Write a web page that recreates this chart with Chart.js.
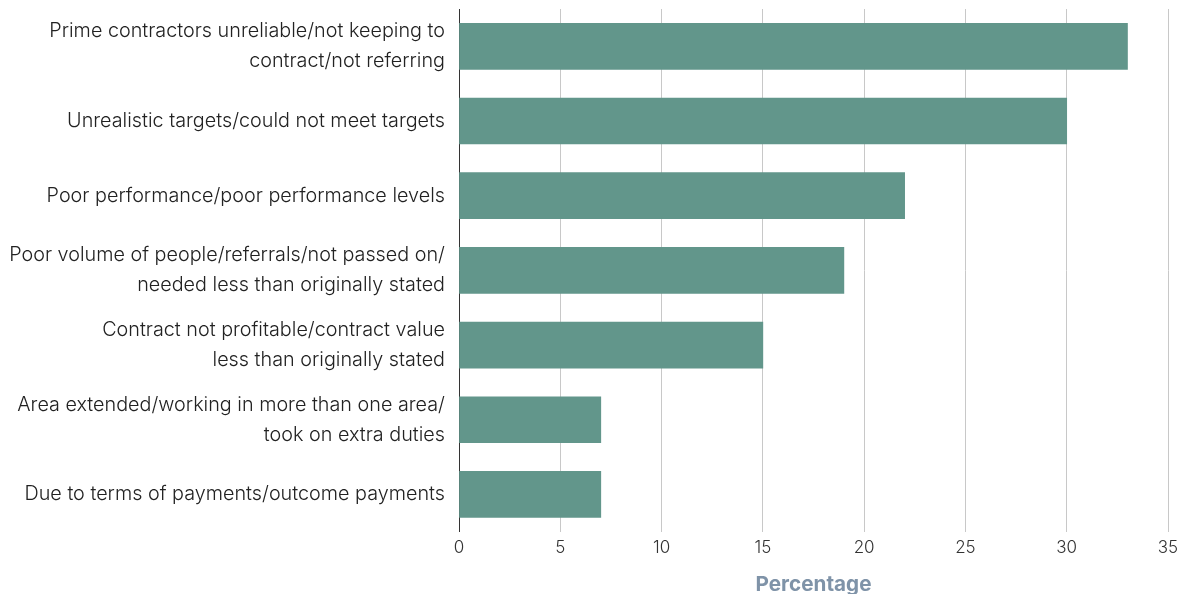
<!DOCTYPE html>
<html>
<head>
<meta charset="utf-8">
<script src="https://cdn.jsdelivr.net/npm/chart.js@4/dist/chart.umd.min.js"></script>
<style>
    html, body { margin: 0; padding: 0; background: #fff; }
    #wrap { width: 1178px; height: 594px; }
</style>
</head>
<body>
<div id="wrap"><canvas id="myChart" width="1178" height="594"></canvas></div>
<script>
const labels = [
    ["Prime contractors unreliable/not keeping to", "contract/not referring"],
    "Unrealistic targets/could not meet targets",
    "Poor performance/poor performance levels",
    ["Poor volume of people/referrals/not passed on/", "needed less than originally stated"],
    ["Contract not profitable/contract value", "less than originally stated"],
    ["Area extended/working in more than one area/", "took on extra duties"],
    "Due to terms of payments/outcome payments",
];

const values = [33, 30, 22, 19, 15, 7, 7];

const xTicks = [0, 5, 10, 15, 20, 25, 30, 35];

const fontFamily = "Inter, 'Liberation Sans', Arial, sans-serif";

const data = {
    labels: labels,
    datasets: [
        {
            label: "Percentage",
            backgroundColor: "#62968b",
            data: values,
            barThickness: 46,
        },
    ],
};

const config = {
    type: "bar",
    data: data,
    options: {
        indexAxis: "y",
        responsive: false,
        animation: false,
        layout: {
            padding: { top: 9, right: 0, bottom: -3, left: 0 },
        },
        scales: {
            x: {
                min: 0,
                max: 35,
                afterBuildTicks: (scale) => {
                    scale.ticks = xTicks.map((v) => ({ value: v }));
                },
                afterFit: (scale) => {
                    // keep the 35 label close to the right edge like the original
                    scale.paddingRight = 10;
                },
                grid: {
                    color: "#c8c8c8",
                    lineWidth: 1,
                    drawTicks: false,
                },
                border: { display: false },
                ticks: {
                    color: "#333",
                    padding: 6,
                    font: { family: fontFamily, size: 17, weight: 300 },
                },
                title: {
                    display: true,
                    text: "Percentage",
                    color: "#7f93a8",
                    padding: { top: 8, bottom: 0 },
                    font: { family: fontFamily, size: 20.7, weight: "bold" },
                },
            },
            y: {
                grid: { display: false },
                border: { display: true, color: "#333", width: 1 },
                afterFit: (scale) => {
                    scale.width = 459;
                    scale.paddingTop = 0;
                    scale.paddingBottom = 0;
                },
                ticks: {
                    color: "#222",
                    padding: 6,
                    font: { family: fontFamily, size: 19.8, weight: 300, lineHeight: 1.515 },
                },
            },
        },
        plugins: {
            legend: { display: false },
            tooltip: { enabled: false },
        },
    },
};

new Chart(document.getElementById("myChart"), config);
</script>
</body>
</html>
